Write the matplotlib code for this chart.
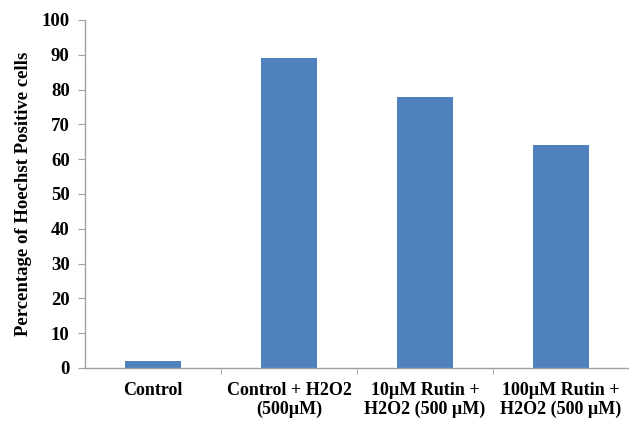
import numpy as np
import matplotlib.pyplot as plt

categories = ['Control', 'Control + H2O2\n(500\u00b5M)',
              '10\u00b5M Rutin +\nH2O2 (500 \u00b5M)',
              '100\u00b5M Rutin +\nH2O2 (500 \u00b5M)']
values = [2, 89, 78, 64]
y_ticks = [0, 10, 20, 30, 40, 50, 60, 70, 80, 90, 100]

plt.rcParams['font.family'] = ['Liberation Serif', 'DejaVu Serif']
plt.rcParams['font.weight'] = 'bold'

fig = plt.figure(figsize=(6.29, 4.21), dpi=100)
ax = fig.add_axes([0.135, 0.126, 0.865, 0.8265])

x = np.arange(len(categories))
ax.bar(x, values, width=0.41, color='#4F81BD')

ax.set_xlim(-0.5, len(categories) - 0.5)
ax.set_ylim(0, 100)
ax.set_yticks(y_ticks)
ax.set_xticks(x)
ax.set_xticklabels(categories, fontsize=13, fontweight='bold', linespacing=1.15)
ax.set_xticks(x[:-1] + 0.5, minor=True)
ax.tick_params(axis='x', which='major', length=0, pad=10)
ax.tick_params(axis='x', which='minor', length=4, color='#A0A0A0', direction='out')
ax.tick_params(axis='y', length=5, color='#A0A0A0', pad=6, labelsize=13.5)
for lab in ax.get_yticklabels():
    lab.set_fontweight('bold')

for side in ['top', 'right']:
    ax.spines[side].set_visible(False)
for side in ['left', 'bottom']:
    ax.spines[side].set_color('#A0A0A0')
    ax.spines[side].set_linewidth(1.0)

ax.set_ylabel('Percentage of Hoechst Positive cells', fontsize=13.5,
              fontweight='bold', labelpad=7)

fig.savefig('out.png', dpi=100)
